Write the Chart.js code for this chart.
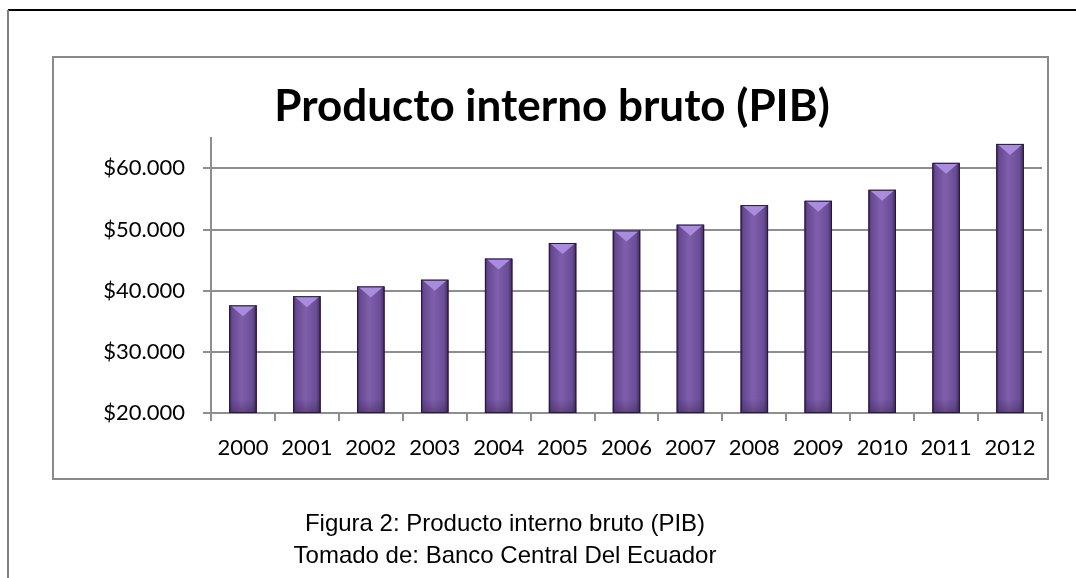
<!DOCTYPE html>
<html><head><meta charset="utf-8">
<script src="https://cdn.jsdelivr.net/npm/chart.js@4.4.1/dist/chart.umd.min.js"></script>
<style>
html,body{margin:0;padding:0;background:#fff;}
body{width:1076px;height:578px;position:relative;overflow:hidden;}
#topline{position:absolute;left:8px;top:9px;width:1068px;height:2px;background:#000;}
#leftline{position:absolute;left:7px;top:10px;width:2px;height:568px;background:#808080;}
#box{position:absolute;left:52px;top:56px;width:993px;height:420px;border:2px solid #8a8a8a;}
#chart{position:absolute;left:0;top:0;}
#caption{position:absolute;left:0;width:1010px;top:507px;text-align:center;font-family:"Liberation Sans",Arial,sans-serif;font-size:24px;line-height:32px;color:#000;}
</style>
</head><body>
<div id="topline"></div>
<div id="leftline"></div>
<div id="box"></div>
<canvas id="chart" width="1076" height="578"></canvas>
<div id="caption">Figura 2: Producto interno bruto (PIB)<br>Tomado de: Banco Central Del Ecuador</div>
<script>
const chartTitle = 'Producto interno bruto (PIB)';
const years = ['2000','2001','2002','2003','2004','2005','2006','2007','2008','2009','2010','2011','2012'];
const pib = [37600, 39100, 40700, 41800, 45250, 47800, 49850, 50800, 54000, 54700, 56500, 60900, 64000];
const yTicks = [20000, 30000, 40000, 50000, 60000];
const yMin = 20000;
const yMax = 65000;

function fmt(v){ return '$' + String(v).replace(/\B(?=(\d{3})+(?!\d))/g, '.'); }

const bevelPlugin = {
  id: 'bevel',
  afterDatasetsDraw(chart) {
    const ctx = chart.ctx;
    const area = chart.chartArea;
    const meta = chart.getDatasetMeta(0);
    ctx.save();
    ctx.beginPath();
    ctx.rect(area.left, area.top, area.right - area.left, area.bottom - area.top);
    ctx.clip();
    meta.data.forEach(bar => {
      const p = bar.getProps(['x','y','base','width'], true);
      const base = Math.min(p.base, area.bottom);
      const l = p.x - p.width/2, r = p.x + p.width/2, h = base - p.y;
      const g = ctx.createLinearGradient(l, 0, r, 0);
      g.addColorStop(0, '#3e2a5c');
      g.addColorStop(0.1, '#664893');
      g.addColorStop(0.45, '#7f5fab');
      g.addColorStop(0.85, '#6a4c96');
      g.addColorStop(1, '#3a2756');
      ctx.fillStyle = g;
      ctx.fillRect(l, p.y, p.width, h);
      const vg = ctx.createLinearGradient(0, base - 14, 0, base);
      vg.addColorStop(0, 'rgba(40,25,60,0)');
      vg.addColorStop(1, 'rgba(40,25,60,0.35)');
      ctx.fillStyle = vg;
      ctx.fillRect(l, base - 14, p.width, 14);
      const bh = Math.min(11, h/2);
      ctx.beginPath();
      ctx.moveTo(l + 1, p.y);
      ctx.lineTo(r - 1, p.y);
      ctx.lineTo(p.x, p.y + bh);
      ctx.closePath();
      ctx.fillStyle = '#a98ddc';
      ctx.fill();
      ctx.strokeStyle = '#261a38';
      ctx.lineWidth = 1;
      ctx.strokeRect(l + 0.5, p.y + 0.5, p.width - 1, h - 1);
    });
    ctx.restore();
  }
};

new Chart(document.getElementById('chart'), {
  type: 'bar',
  data: {
    labels: years,
    datasets: [{ data: pib, backgroundColor: '#7a5aa6', borderColor: '#261a38', borderWidth: 1,
      barPercentage: 0.43, categoryPercentage: 1 }]
  },
  options: {
    responsive: false,
    animation: false,
    devicePixelRatio: 1,
    layout: { padding: { left: 62, right: 34, top: 58, bottom: 105 } },
    plugins: {
      legend: { display: false },
      tooltip: { enabled: false },
      title: {
        display: true, text: chartTitle, color: '#000',
        font: { family: 'Lato', size: 44, weight: 'bold' },
        padding: { top: 22, bottom: 5 }
      }
    },
    scales: {
      x: {
        afterFit: s => { s.height = 60; },
        grid: { display: true, drawOnChartArea: false, drawTicks: true, tickLength: 8, color: '#8e8e8e', lineWidth: 2, offset: true },
        border: { display: true, color: '#8e8e8e', width: 2 },
        ticks: { color: '#000', font: { family: 'Lato', size: 22 }, padding: 14, maxRotation: 0, autoSkip: false }
      },
      y: {
        min: yMin, max: yMax,
        afterFit: s => { s.width = 149; },
        afterBuildTicks: s => { s.ticks = yTicks.map(v => ({ value: v })); },
        grid: { color: '#8e8e8e', lineWidth: 2, drawTicks: true, tickLength: 8 },
        border: { display: true, color: '#8e8e8e', width: 2 },
        ticks: { color: '#000', font: { family: 'Lato', size: 22 }, padding: 18, callback: v => fmt(v) }
      }
    }
  },
  plugins: [bevelPlugin]
});
</script>
</body></html>
